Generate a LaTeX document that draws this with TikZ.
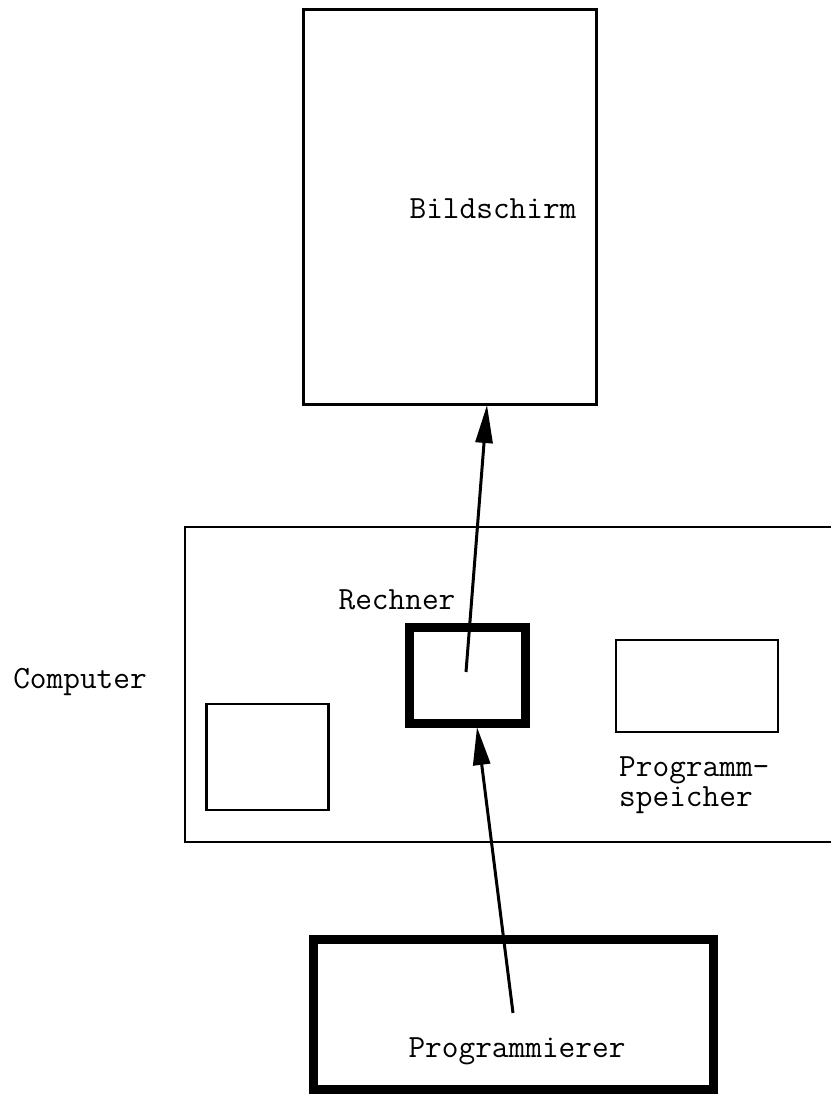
\documentclass[tikz,border=0pt]{standalone}
\usepackage{fontspec}
\usetikzlibrary{arrows.meta}

\begin{document}
\begin{tikzpicture}[x=1pt,y=-1pt,>={Triangle[length=38pt,width=17pt]},
  box/.style={draw,line width=2.5pt,inner sep=0pt},
  heavy/.style={draw,line width=9pt,inner sep=0pt},
  lbl/.style={font=\ttfamily\fontsize{32.4}{30}\selectfont,inner sep=0pt,anchor=base}]
\useasboundingbox (0,0) rectangle (831,1096);
% boxes
\node[box,line width=3pt,minimum width=293pt,minimum height=395pt] (bild) at (450,207) {};
\draw[line width=2.5pt] (831,527) -| (185,842) -- (831,842);
\node[box,minimum width=122pt,minimum height=106pt] (ein) at (267.5,757) {};
\node[heavy,minimum width=116pt,minimum height=96pt] (rech) at (467.5,675) {};
\node[box,minimum width=162pt,minimum height=92pt] (spei) at (697,686) {};
\node[heavy,minimum width=400pt,minimum height=150pt] (prog) at (513.5,1014) {};
% labels
\node[lbl] (tbild) at (493,218) {Bildschirm};
\node[lbl] (tcomp) at (80,688) {Computer};
\node[lbl] (trech) at (397,609) {Rechner};
\node[lbl,anchor=base west,align=left] (tspei) at (619,806) {Programm-\\speicher};
\node[lbl] (tprog) at (517,1057) {Programmierer};
% arrows
\coordinate (r1) at (466,672);
\coordinate (b1) at (487,405);
\coordinate (p1) at (513,1013);
\coordinate (r2) at (477,727);
\draw[->,line width=3pt] (r1) -- (b1);
\draw[->,line width=3pt] (p1) -- (r2);
\end{tikzpicture}
\end{document}
